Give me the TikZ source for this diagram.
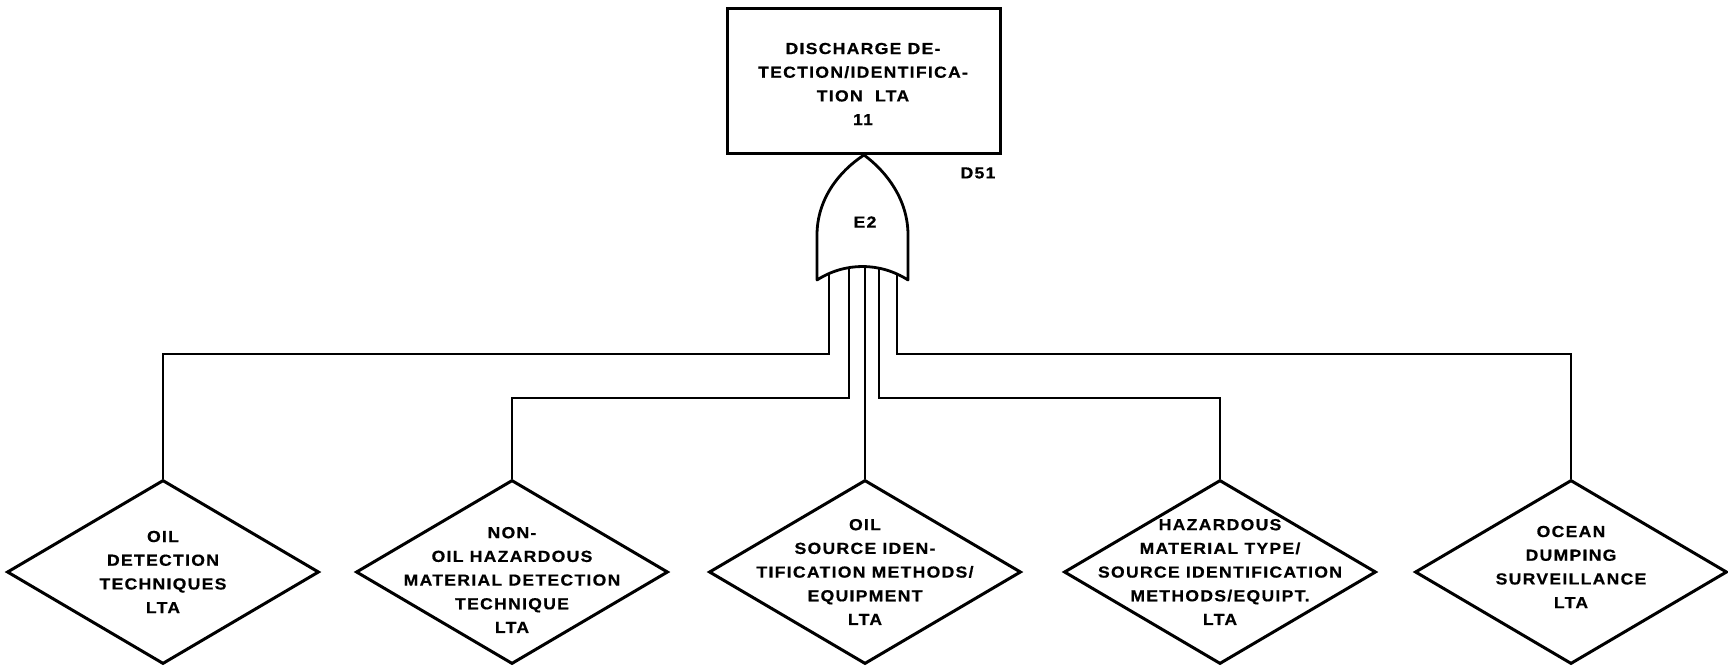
\documentclass[tikz,border=0pt]{standalone}
\usepackage{fontspec}
\setmainfont{Liberation Sans}
\newfontfamily\ftafont{Liberation Sans Bold}[FakeStretch=1.1,LetterSpace=8,FakeBold=0.6]
\usetikzlibrary{shapes.geometric,positioning}

\tikzset{
  topbox/.style={draw,line width=3pt,minimum width=273pt,minimum height=145pt,inner sep=0pt},
  event/.style={draw,diamond,line width=3pt,minimum width=312pt,minimum height=184pt,inner sep=0pt},
  lbl/.style={font=\ftafont\fontsize{16}{23.7}\selectfont,align=center,inner sep=0pt},
  wire/.style={line width=2pt},
  orgate/.style={draw,line width=2.8pt,fill=white,line join=round},
}

\begin{document}
\begin{tikzpicture}[x=1pt,y=-1pt]
\useasboundingbox (0,0) rectangle (1728,669);
% top event
\node[topbox] (top) at (864,81) {};
\node[lbl] (toptxt) at (863,84) {DISCHARGE DE-\\TECTION/IDENTIFICA-\\TION~~LTA\\11};
\node[lbl] (d51) at (978,173) {D51};
% basic events
\node[event] (d1) at (163,572) {};
\node[event] (d2) at (512,572) {};
\node[event] (d3) at (865,572) {};
\node[event] (d4) at (1220,572) {};
\node[event] (d5) at (1571,572) {};
\node[lbl] (t1) at (d1) {OIL\\DETECTION\\TECHNIQUES\\LTA};
\node[lbl] (t2) at (512,580) {NON-\\OIL HAZARDOUS\\MATERIAL DETECTION\\TECHNIQUE\\LTA};
\node[lbl] (t3) at (d3) {OIL\\SOURCE IDEN-\\TIFICATION METHODS/\\EQUIPMENT\\LTA};
\node[lbl] (t4) at (d4) {HAZARDOUS\\MATERIAL TYPE/\\SOURCE IDENTIFICATION\\METHODS/EQUIPT.\\LTA};
\node[lbl] (t5) at (1571,567) {OCEAN\\DUMPING\\SURVEILLANCE\\LTA};
% gate inputs
\coordinate (g1) at (829,272);
\coordinate (g2) at (849,268);
\coordinate (g3) at (865,266);
\coordinate (g4) at (879,268);
\coordinate (g5) at (897,272);
\draw[wire] (g1) -- ++(0,82) -| (d1.north);
\draw[wire] (g2) -- ++(0,130) -| (d2.north);
\draw[wire] (g3) -- (d3.north);
\draw[wire] (g4) -- ++(0,130) -| (d4.north);
\draw[wire] (g5) -- ++(0,82) -| (d5.north);
% OR gate E2
\draw[orgate] (top.south) .. controls (838,172) and (817,200) .. (817,235) -- (817,280)
  .. controls (845,262) and (880,262) .. (908,280) -- (908,235)
  .. controls (908,200) and (887,172) .. (top.south) -- cycle;
\node[lbl] (e2) at (865,222) {E2};
\end{tikzpicture}
\end{document}
